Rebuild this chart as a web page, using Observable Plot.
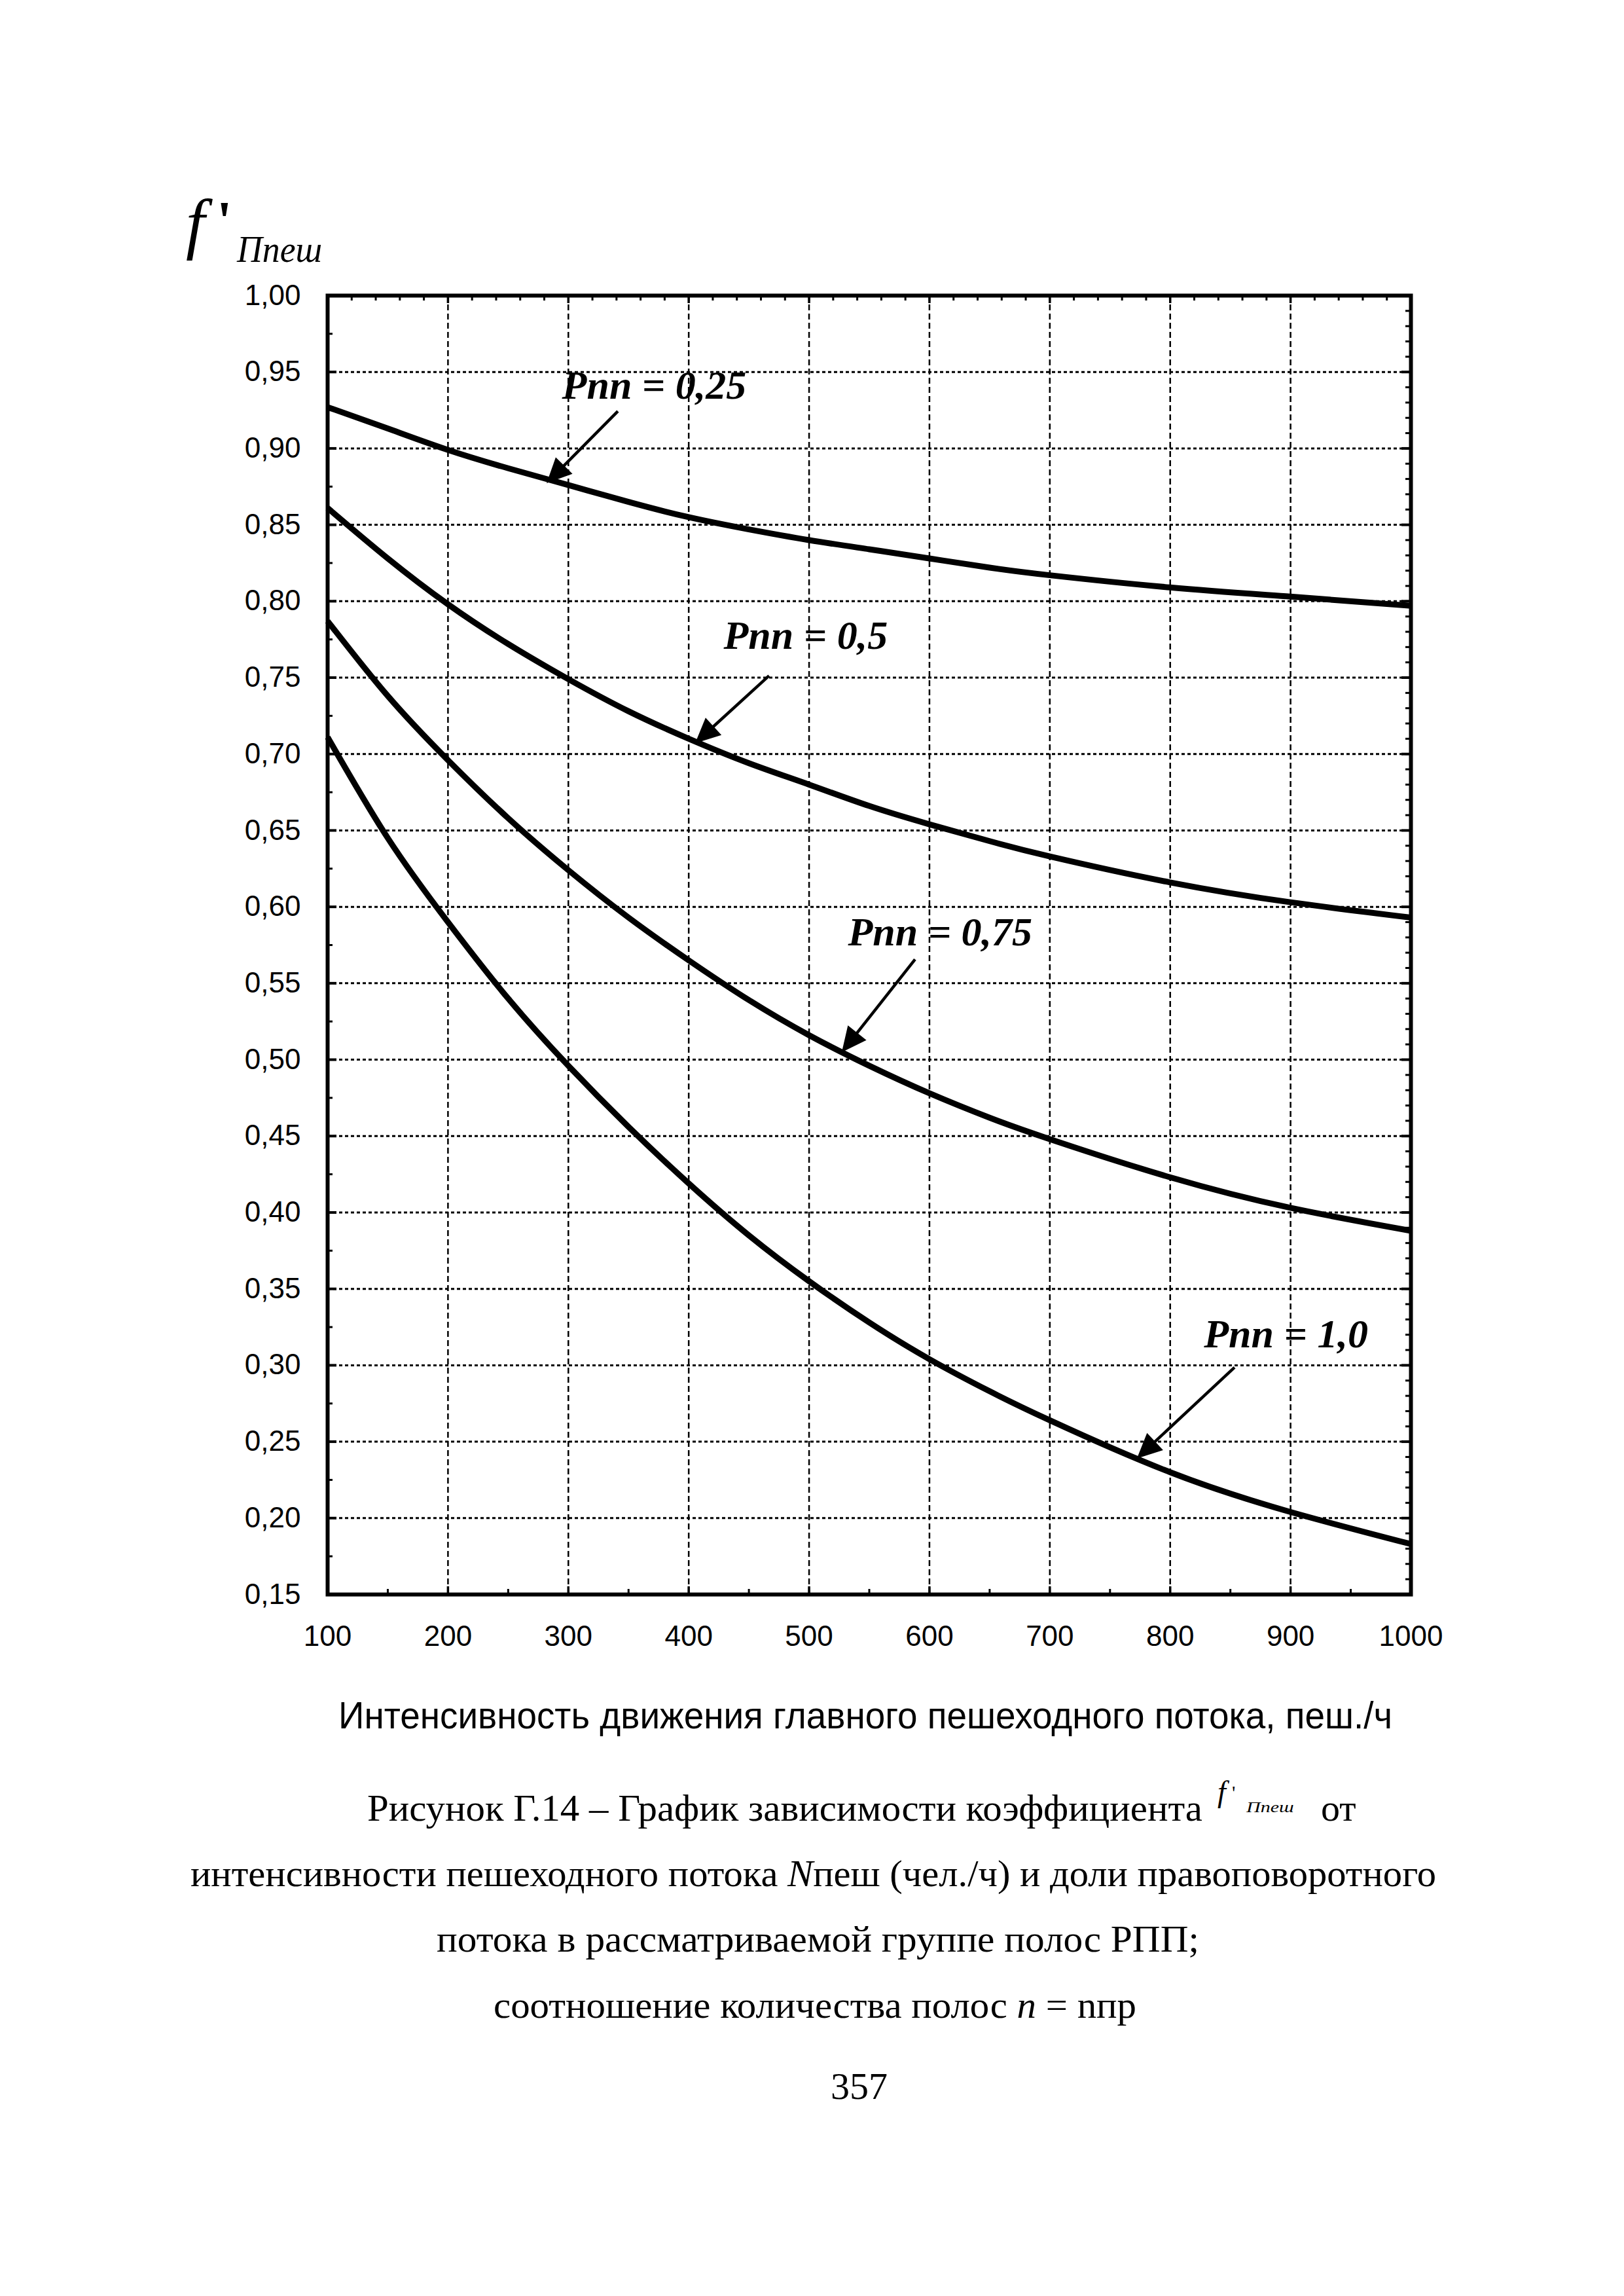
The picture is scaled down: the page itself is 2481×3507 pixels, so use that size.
<!DOCTYPE html>
<html><head><meta charset="utf-8">
<script src="https://cdn.jsdelivr.net/npm/d3@7"></script>
<script src="https://cdn.jsdelivr.net/npm/@observablehq/plot@0.6"></script>
<style>
html,body{margin:0;padding:0;background:#fff;}
#page{position:relative;width:2481px;height:3507px;background:#fff;overflow:hidden;}
#chart{position:absolute;left:0;top:0;}
.t{position:absolute;white-space:nowrap;line-height:1;transform-origin:0 0;color:#000;}
.serif{font-family:"Liberation Serif","Times New Roman",serif;}
.sans{font-family:"Liberation Sans",Arial,sans-serif;}
i{font-style:italic;}
</style></head><body><div id="page"><div id="chart"></div></div>
<script>
// ---- data ----
const flow = [100,150,200,250,300,350,400,450,500,550,600,650,700,800,900,1000];
const seriesNames = ["0,25","0,5","0,75","1,0"];
const p025 = [0.927,0.913,0.899,0.887,0.876,0.865,0.855,0.847,0.840,0.834,0.828,0.822,0.817,0.809,0.803,0.797];
const p050 = [0.861,0.828,0.798,0.772,0.749,0.728,0.710,0.694,0.680,0.666,0.654,0.643,0.633,0.616,0.603,0.593];
const p075 = [0.787,0.738,0.696,0.658,0.624,0.593,0.565,0.539,0.516,0.496,0.478,0.462,0.448,0.423,0.403,0.388];
const p100 = [0.711,0.645,0.590,0.540,0.496,0.456,0.419,0.385,0.355,0.328,0.304,0.283,0.264,0.230,0.204,0.183];

const xTicks = [100,200,300,400,500,600,700,800,900,1000];
const yTicks = [0.15,0.20,0.25,0.30,0.35,0.40,0.45,0.50,0.55,0.60,0.65,0.70,0.75,0.80,0.85,0.90,0.95,1.00];

const labelText = ["Рпп = 0,25","Рпп = 0,5","Рпп = 0,75","Рпп = 1,0"];
const labelX = [294.7, 429, 532.3, 828];
const labelY = [0.9327, 0.769, 0.5748, 0.3117];
const arrowFromX = [341.4, 467, 588.3, 853.7];
const arrowFromY = [0.9241, 0.751, 0.5654, 0.2984];
const arrowToX = [282.2, 405.6, 527.4, 772.6];
const arrowToY = [0.877, 0.7069, 0.5046, 0.2388];

// ---- tables ----
const allSeries = [p025, p050, p075, p100];
const rows = [];
allSeries.forEach((vals, s) => vals.forEach((v, i) => rows.push({series: seriesNames[s], flow: flow[i], f: v})));
const labels = labelText.map((t, i) => ({t, x: labelX[i], y: labelY[i]}));

const W = 2481, H = 2560;
const mL = 500, mR = 326, mT = 451, mB = 125;
const fw = W - mL - mR, fh = H - mT - mB;

const xGrid = xTicks.slice(1, -1);
const yGrid = yTicks.slice(1, -1);
const xMinorBottom = d3.range(150, 1000, 100);
const xMinorTop = d3.range(100, 1001, 20).filter(v => v % 100 !== 0);
const yMinorLeft = d3.range(0, 34).map(i => 0.175 + i * 0.05).filter(v => v < 1);
const yMinorRight = d3.range(16, 100).map(i => i / 100).filter(v => Math.round(v * 100) % 5 !== 0);

function arrowMark(index, scales) {
  const g = d3.create("svg:g");
  const sx = scales.x, sy = scales.y;
  arrowFromX.forEach((_, i) => {
    const x1 = sx(arrowFromX[i]), y1 = sy(arrowFromY[i]);
    const x2 = sx(arrowToX[i]), y2 = sy(arrowToY[i]);
    const dx = x2 - x1, dy = y2 - y1, L = Math.hypot(dx, dy);
    const ux = dx / L, uy = dy / L;
    const hl = 38, hw = 18;
    const bx = x2 - ux * hl, by = y2 - uy * hl;
    g.append("line").attr("x1", x1).attr("y1", y1).attr("x2", bx + ux * 4).attr("y2", by + uy * 4)
      .attr("stroke", "#000").attr("stroke-width", 4.5);
    g.append("path").attr("d", `M${x2},${y2}L${bx - uy * hw},${by + ux * hw}L${bx + uy * hw},${by - ux * hw}Z`)
      .attr("fill", "#000");
  });
  return g.node();
}

const fmtY = d => d.toFixed(2).replace(".", ",");

const chart = Plot.plot({
  width: W, height: H,
  marginLeft: mL, marginRight: mR, marginTop: mT, marginBottom: mB,
  style: {fontFamily: "'Liberation Sans', Arial, sans-serif", fontSize: "44px", color: "#000", background: "transparent", overflow: "visible"},
  x: {domain: [100, 1000], axis: null},
  y: {domain: [0.15, 1.0], axis: null},
  marks: [
    Plot.ruleY(yGrid, {stroke: "#000", strokeWidth: 3, strokeDasharray: "5,4"}),
    Plot.ruleX(xGrid, {stroke: "#000", strokeWidth: 2.5, strokeDasharray: "9,5"}),
    Plot.ruleX(xMinorBottom, {stroke: "#000", strokeWidth: 3, insetTop: fh - 8}),
    Plot.ruleX(xGrid, {stroke: "#000", strokeWidth: 3.5, insetTop: fh - 12}),
    Plot.ruleX(xMinorTop, {stroke: "#000", strokeWidth: 3, insetBottom: fh - 8}),
    Plot.ruleX(xGrid, {stroke: "#000", strokeWidth: 3.5, insetBottom: fh - 12}),
    Plot.ruleY(yMinorLeft, {stroke: "#000", strokeWidth: 3, insetRight: fw - 8}),
    Plot.ruleY(yGrid, {stroke: "#000", strokeWidth: 4, insetRight: fw - 14}),
    Plot.ruleY(yMinorRight, {stroke: "#000", strokeWidth: 3, insetLeft: fw - 8}),
    Plot.ruleY(yGrid, {stroke: "#000", strokeWidth: 4, insetLeft: fw - 14}),
    Plot.line(rows, {x: "flow", y: "f", z: "series", curve: "natural", stroke: "#000", strokeWidth: 9, strokeLinecap: "butt"}),
    Plot.frame({stroke: "#000", strokeWidth: 6}),
    Plot.axisX({ticks: xTicks, tickSize: 0, tickPadding: 47, fontSize: 44, tickFormat: d => String(d)}),
    Plot.axisY({ticks: yTicks, tickSize: 0, tickPadding: 41, fontSize: 44, tickFormat: fmtY}),
    Plot.text(labels, {x: "x", y: "y", text: "t", textAnchor: "start", lineAnchor: "bottom",
      fontFamily: "'Liberation Serif', 'Times New Roman', serif", fontStyle: "italic", fontWeight: "bold", fontSize: 62, fill: "#000"}),
    arrowMark
  ]
});
document.getElementById("chart").appendChild(chart);

// ---- page texts ----
const page = document.getElementById("page");
function addText(html, cls, fs, left, baseline, targetW, extra) {
  const d = document.createElement("div");
  d.className = "t " + cls;
  d.style.fontSize = fs + "px";
  const asc = cls.includes("serif") ? 0.8375 : 0.8465;
  d.style.left = left + "px";
  d.style.top = (baseline - asc * fs) + "px";
  if (extra) Object.assign(d.style, extra);
  d.innerHTML = html;
  page.appendChild(d);
  if (targetW) {
    const w = d.getBoundingClientRect().width;
    let s = targetW / w;
    s = Math.max(0.75, Math.min(1.25, s));
    d.style.transform = `scaleX(${s})`;
  }
  return d;
}
// y-axis label f'Ппеш
addText("f", "serif", 104, 284, 376, null, {fontStyle: "italic"});
addText("'", "serif", 85, 331, 366, null, {fontWeight: "bold"});
addText("Ппеш", "serif", 56, 362, 400, 130, {fontStyle: "italic"});
// x-axis title
addText("Интенсивность движения главного пешеходного потока, пеш./ч", "sans", 58, 517, 2640, 1610);
// caption
addText("Рисунок Г.14 – График зависимости коэффициента", "serif", 58, 561, 2782, 1276);
addText("f", "serif", 46, 1860, 2753, null, {fontStyle: "italic"});
addText("'", "serif", 30, 1882, 2748, null);
addText("Ппеш", "serif", 24, 1904, 2768, 76, {fontStyle: "italic"});
addText("от", "serif", 58, 2018, 2782, null);
addText("интенсивности пешеходного потока <i>N</i>пеш (чел./ч) и доли правоповоротного", "serif", 58, 291, 2882, 1903);
addText("потока в рассматриваемой группе полос РПП;", "serif", 58, 667, 2982, 1165);
addText("соотношение количества полос <i>n</i> = nпр", "serif", 58, 754, 3083, 982);
addText("357", "serif", 58, 1269, 3207, null);
</script></body></html>
